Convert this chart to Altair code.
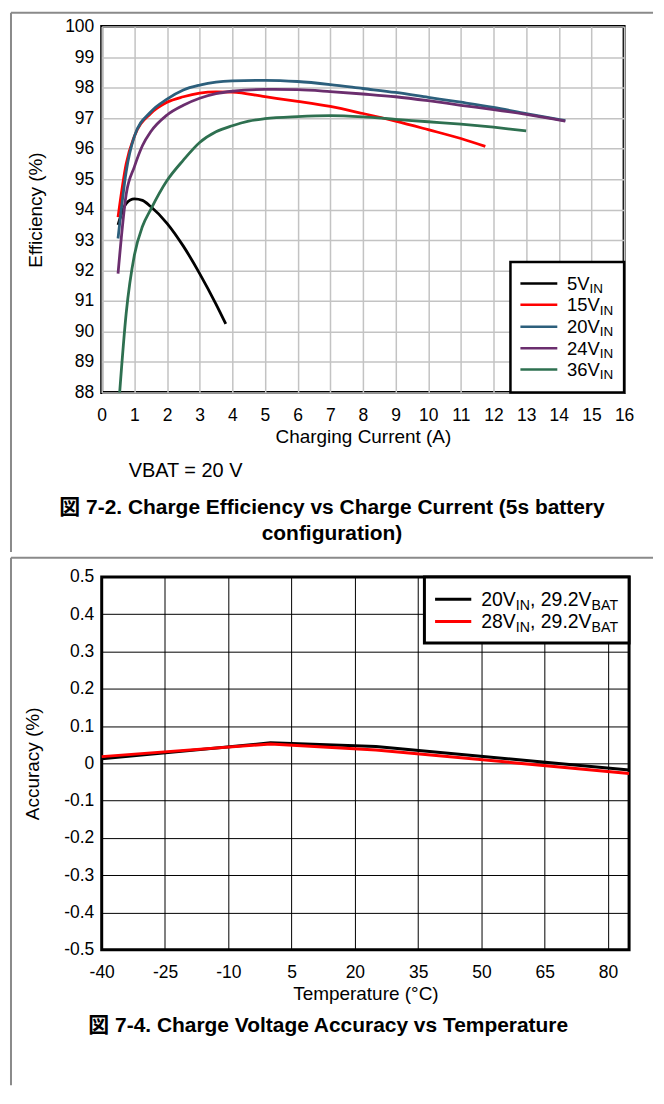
import altair as alt
import pandas as pd

FONT = "Liberation Sans, Arial, Helvetica, Noto Sans CJK JP, sans-serif"

# ---------------- top chart data ----------------
SERIES_TOP = ["5V", "15V", "20V", "24V", "36V"]
COLORS_TOP = ["#000000", "#ff0000", "#2c5f7c", "#6b2e6e", "#2e7050"]

I_5 = [0.5, 0.75, 1.0, 1.25, 1.5, 2.0, 2.5, 3.0, 3.5, 3.8]
E_5 = [93.5, 94.2, 94.35, 94.3, 94.1, 93.55, 92.8, 91.9, 90.9, 90.25]

I_15 = [0.5, 0.75, 1.0, 1.5, 2.0, 2.5, 3.0, 3.5, 4.0, 5.0, 6.0, 7.0, 8.0, 9.0, 10.0, 11.0, 11.75]
E_15 = [93.75, 95.5, 96.4, 97.15, 97.52, 97.7, 97.82, 97.86, 97.85, 97.7, 97.55, 97.38, 97.15, 96.9, 96.62, 96.33, 96.07]

I_20 = [0.5, 0.75, 1.0, 1.5, 2.0, 2.5, 3.0, 3.5, 4.0, 5.0, 6.0, 7.0, 8.0, 9.0, 10.0, 11.0, 12.0, 13.0, 14.2]
E_20 = [93.05, 95.25, 96.4, 97.2, 97.62, 97.92, 98.08, 98.18, 98.22, 98.24, 98.2, 98.1, 97.97, 97.84, 97.68, 97.52, 97.35, 97.15, 96.92]

I_24 = [0.5, 0.75, 1.0, 1.25, 1.5, 2.0, 2.5, 3.0, 3.5, 4.0, 5.0, 6.0, 7.0, 8.0, 9.0, 10.0, 11.0, 12.0, 13.0, 14.2]
E_24 = [91.9, 94.5, 95.4, 96.1, 96.55, 97.1, 97.42, 97.65, 97.8, 97.88, 97.94, 97.93, 97.87, 97.79, 97.7, 97.57, 97.42, 97.28, 97.12, 96.9]

I_36 = [0.55, 0.75, 1.0, 1.25, 1.5, 2.0, 2.5, 3.0, 3.5, 4.0, 4.5, 5.0, 6.0, 7.0, 8.0, 9.0, 10.0, 11.0, 12.0, 13.0]
E_36 = [88.0, 90.6, 92.5, 93.45, 94.0, 94.95, 95.62, 96.2, 96.55, 96.75, 96.9, 96.98, 97.05, 97.08, 97.04, 96.96, 96.88, 96.8, 96.7, 96.58]

X_TICKS_TOP = list(range(0, 17))
Y_TICKS_TOP = list(range(88, 101))

# ---------------- bottom chart data ----------------
SERIES_BOT = ["20", "28"]
COLORS_BOT = ["#000000", "#ff0000"]
TEMP = [-40, 0, 25, 85]
ACC_20 = [0.012, 0.055, 0.045, -0.018]
ACC_28 = [0.018, 0.052, 0.036, -0.027]
X_TICKS_BOT = [-40, -25, -10, 5, 20, 35, 50, 65, 80]
Y_TICKS_BOT = [-0.5, -0.4, -0.3, -0.2, -0.1, 0.0, 0.1, 0.2, 0.3, 0.4, 0.5]

# ---------------- frames ----------------
rows = []
for name, xs, ys in zip(SERIES_TOP, [I_5, I_15, I_20, I_24, I_36], [E_5, E_15, E_20, E_24, E_36]):
    for a, b in zip(xs, ys):
        rows.append({"series": name, "I": a, "E": b})
df_top = pd.DataFrame(rows)

rows_b = []
for name, ys in zip(SERIES_BOT, [ACC_20, ACC_28]):
    for a, b in zip(TEMP, ys):
        rows_b.append({"series": name, "T": a, "A": b})
df_bot = pd.DataFrame(rows_b)

DUMMY = pd.DataFrame({"k": [0]})

# Arial-compatible advance widths (em) for subscript placement
ADV = {c: 0.556 for c in "0123456789"}
ADV.update({"V": 0.667, ",": 0.278, " ": 0.278, ".": 0.278, "I": 0.278, "N": 0.722,
            "B": 0.667, "A": 0.667, "T": 0.611})


def tw(s, size):
    return sum(ADV.get(c, 0.556) for c in s) * size


def txt(s, x, y, size, weight="normal", align="left", color="black"):
    return alt.Chart(DUMMY).mark_text(
        text=s, font=FONT, fontSize=size, fontWeight=weight, align=align,
        baseline="alphabetic", color=color
    ).encode(x=alt.value(x), y=alt.value(y))


def hrule(x1, x2, y, color, w):
    return alt.Chart(DUMMY).mark_rule(color=color, strokeWidth=w).encode(
        x=alt.value(x1), x2=alt.value(x2), y=alt.value(y))


def vrule(x, y1, y2, color, w):
    return alt.Chart(DUMMY).mark_rule(color=color, strokeWidth=w).encode(
        x=alt.value(x), y=alt.value(y1), y2=alt.value(y2))


def box(x1, x2, y1, y2, w):
    return alt.Chart(DUMMY).mark_rect(fill="white", stroke="black", strokeWidth=w).encode(
        x=alt.value(x1), x2=alt.value(x2), y=alt.value(y1), y2=alt.value(y2))


PAGE_GRAY = "#8a8a8a"
TICK_FS = 17.5
TITLE_FS = 19
CAP_FS = 21
EDGE = -91

axis_common = dict(domain=False, ticks=False, tickSize=0, labelFont=FONT, titleFont=FONT,
                   labelFontSize=TICK_FS, titleFontSize=TITLE_FS, titleFontWeight="normal",
                   labelColor="black", titleColor="black", labelOverlap=False, labelFlush=False)

# ---------------- top panel ----------------
W1, H1 = 524, 367

lines_top = alt.Chart(df_top).mark_line(interpolate="monotone", strokeWidth=2.8).encode(
    x=alt.X("I:Q", scale=alt.Scale(domain=[0, 16], nice=False, zero=False),
            axis=alt.Axis(values=X_TICKS_TOP, title="Charging Current (A)", grid=True,
                          gridColor="#c3c3c3", gridWidth=1.5, labelPadding=14,
                          titleY=50, titleBaseline="alphabetic", **axis_common)),
    y=alt.Y("E:Q", scale=alt.Scale(domain=[88, 100], nice=False, zero=False),
            axis=alt.Axis(values=Y_TICKS_TOP, title="Efficiency (%)", grid=True,
                          gridColor="#c3c3c3", gridWidth=1.5, labelPadding=8,
                          titleX=-60, titleY=H1 / 2, titleAngle=270, titleBaseline="alphabetic",
                          **axis_common)),
    color=alt.Color("series:N", scale=alt.Scale(domain=SERIES_TOP, range=COLORS_TOP), legend=None),
)

LEG1_FS, SUB1_FS = 18.5, 13.5
top_layers = [lines_top, box(410, 524, 236, 367, 2.5)]
leg_y = [257.7, 279, 301, 322.7, 344]
for name, col, yc in zip(SERIES_TOP, COLORS_TOP, leg_y):
    top_layers.append(hrule(420, 457, yc, col, 2.5))
    top_layers.append(txt(name, 466.7, yc + 6.4, LEG1_FS))
    top_layers.append(txt("IN", 466.7 + tw(name, LEG1_FS), yc + 9.8, SUB1_FS))

top_layers.append(txt("VBAT = 20 V", 27, 452, 20))
top_layers.append(txt("図 7-2. Charge Efficiency vs Charge Current (5s battery", 231, 489, CAP_FS, "bold", "center"))
top_layers.append(txt("configuration)", 231, 515, CAP_FS, "bold", "center"))
top_layers.append(hrule(EDGE, 553, -14, PAGE_GRAY, 2))
top_layers.append(vrule(EDGE, -14, 527, PAGE_GRAY, 2))

top = alt.layer(*top_layers).properties(width=W1, height=H1)

# ---------------- bottom panel ----------------
W2, H2 = 529, 374

lines_bot = alt.Chart(df_bot).mark_line(strokeWidth=3).encode(
    x=alt.X("T:Q", scale=alt.Scale(domain=[-40, 85], nice=False, zero=False),
            axis=alt.Axis(values=X_TICKS_BOT, title="Temperature (°C)", grid=True,
                          gridColor="#000000", gridWidth=1, labelPadding=14,
                          labelExpr="datum.value < 0 ? '-' + format(-datum.value, 'd') : format(datum.value, 'd')",
                          titleY=49.5, titleBaseline="alphabetic", **axis_common)),
    y=alt.Y("A:Q", scale=alt.Scale(domain=[-0.5, 0.5], nice=False, zero=False),
            axis=alt.Axis(values=Y_TICKS_BOT, title="Accuracy (%)", grid=True,
                          gridColor="#000000", gridWidth=1, labelPadding=8,
                          labelExpr="abs(datum.value) < 1e-9 ? '0' : (datum.value < 0 ? '-' + format(-datum.value, '.1f') : format(datum.value, '.1f'))",
                          titleX=-63, titleY=H2 / 2, titleAngle=270, titleBaseline="alphabetic",
                          **axis_common)),
    color=alt.Color("series:N", scale=alt.Scale(domain=SERIES_BOT, range=COLORS_BOT), legend=None),
    order=alt.Order("T:Q"),
)

LEG2_FS, SUB2_FS = 19.5, 14.2
bot_layers = [lines_bot, box(323.7, 529, 0, 66.4, 3)]
for name, col, yc in zip(SERIES_BOT, COLORS_BOT, [22.4, 44.7]):
    bot_layers.append(hrule(334.4, 370.7, yc, col, 3))
    x0 = 380.7
    s1 = name + "V"
    bot_layers.append(txt(s1, x0, yc + 6.8, LEG2_FS))
    x0 += tw(s1, LEG2_FS)
    bot_layers.append(txt("IN", x0, yc + 10.3, SUB2_FS))
    x0 += tw("IN", SUB2_FS)
    s2 = ", 29.2V"
    bot_layers.append(txt(s2, x0, yc + 6.8, LEG2_FS))
    x0 += tw(s2, LEG2_FS)
    bot_layers.append(txt("BAT", x0, yc + 10.3, SUB2_FS))

bot_layers.append(txt("図 7-4. Charge Voltage Accuracy vs Temperature", 227.2, 456.7, CAP_FS, "bold", "center"))
bot_layers.append(hrule(EDGE, 553, -19.3, PAGE_GRAY, 2))
bot_layers.append(vrule(EDGE, -19.3, 510, PAGE_GRAY, 2))

bottom = alt.layer(*bot_layers).properties(width=W2, height=H2)

chart = alt.vconcat(top, bottom, spacing=0).properties(
    padding=0, background="white"
).configure_view(stroke="black", strokeWidth=3).configure_concat(spacing=0)

chart.save("out.html", embed_options={"renderer": "svg", "actions": False})
